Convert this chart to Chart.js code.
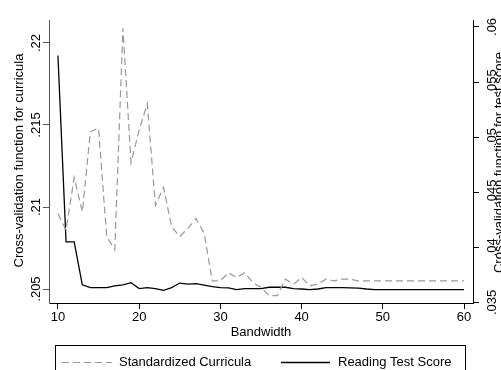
<!DOCTYPE html>
<html>
<head>
<meta charset="utf-8">
<script src="https://cdn.jsdelivr.net/npm/chart.js@4/dist/chart.umd.min.js"></script>
<style>
html,body{margin:0;padding:0;background:#fff;}
#wrap{width:501px;height:370px;position:relative;}
</style>
</head>
<body>
<div id="wrap"><canvas id="c" width="501" height="370"></canvas></div>
<script>
// ---- data ----
const bandwidth = [10,11,12,13,14,15,16,17,18,19,20,21,22,23,24,25,26,27,28,29,30,31,32,33,34,35,36,37,38,39,40,41,42,43,44,45,46,47,48,49,50,51,52,53,54,55,56,57,58,59,60];
const curricula = [0.2096,0.2086,0.2118,0.2097,0.2146,0.2148,0.2082,0.2074,0.2209,0.2127,0.2147,0.2163,0.2101,0.2112,0.2088,0.2082,0.2087,0.2093,0.2084,0.2055,0.2055,0.2060,0.2057,0.2060,0.2054,0.2051,0.2046,0.2046,0.2056,0.2053,0.2057,0.2052,0.2053,0.2056,0.2055,0.2056,0.2056,0.2055,0.2055,0.2055,0.2055,0.2055,0.2055,0.2055,0.2055,0.2055,0.2055,0.2055,0.2055,0.2055,0.2055];
const testScore = [0.0574,0.0405,0.0405,0.0366,0.03635,0.03635,0.03635,0.0365,0.0366,0.0368,0.03626,0.03635,0.03626,0.0361,0.03635,0.03676,0.03667,0.03671,0.03658,0.03643,0.03635,0.03632,0.03617,0.03626,0.03626,0.03626,0.03638,0.03638,0.03638,0.03626,0.03622,0.03617,0.03622,0.03635,0.03635,0.03635,0.03632,0.0363,0.03622,0.03617,0.03617,0.03617,0.03617,0.03617,0.03617,0.03617,0.03617,0.03617,0.03617,0.03617,0.03617];
const xTickLabels = ['10','20','30','40','50','60'];
const leftTickLabels = ['.205','.21','.215','.22'];
const rightTickLabels = ['.035','.04','.045','.05','.055','.06'];
const seriesNames = ['Standardized Curricula','Reading Test Score'];
const xTitle = 'Bandwidth';
const leftTitle = 'Cross-validation function for curricula';
const rightTitle = 'Cross-validation function for test score';

const FONT = '"Liberation Sans", Arial, Helvetica, sans-serif';
const DASH = [7,4];

function toVal(s){ return parseFloat(s.charAt(0)==='.' ? '0'+s : s); }

const textPlugin = {
  id:'textPlugin',
  afterDraw(chart){
    const ctx = chart.ctx;
    const yl = chart.scales.y, yr = chart.scales.y1;
    const ca = chart.chartArea;
    ctx.save();
    ctx.fillStyle = '#000';
    ctx.font = '13px ' + FONT;
    ctx.textBaseline = 'alphabetic';
    ctx.textAlign = 'center';
    leftTickLabels.forEach(l=>{
      const y = yl.getPixelForValue(toVal(l));
      ctx.save(); ctx.translate(39.5, y); ctx.rotate(-Math.PI/2); ctx.fillText(l,0,0); ctx.restore();
    });
    rightTickLabels.forEach(l=>{
      const y = yr.getPixelForValue(toVal(l));
      ctx.save(); ctx.translate(495.5, y); ctx.rotate(-Math.PI/2); ctx.fillText(l,0,0); ctx.restore();
    });
    const cy = (ca.top + ca.bottom)/2;
    ctx.save(); ctx.translate(23, cy - 1); ctx.rotate(-Math.PI/2); ctx.fillText(leftTitle,0,0); ctx.restore();
    ctx.save(); ctx.translate(503, cy + 1); ctx.rotate(-Math.PI/2); ctx.fillText(rightTitle,0,0); ctx.restore();
    ctx.textBaseline = 'middle';
    ctx.fillText(xTitle, (ca.left+ca.right)/2, 332);
    // legend
    ctx.strokeStyle = '#000';
    ctx.lineWidth = 1;
    ctx.strokeRect(55.5, 345.5, 410, 40);
    const ly = 362.5;
    ctx.beginPath();
    ctx.strokeStyle = '#999';
    ctx.lineWidth = 1.2;
    ctx.setLineDash(DASH);
    ctx.moveTo(62, ly); ctx.lineTo(112, ly); ctx.stroke();
    ctx.setLineDash([]);
    ctx.beginPath();
    ctx.strokeStyle = '#000';
    ctx.lineWidth = 1.3;
    ctx.moveTo(281, ly); ctx.lineTo(330, ly); ctx.stroke();
    ctx.textAlign = 'left';
    ctx.fillText(seriesNames[0], 119, ly);
    ctx.fillText(seriesNames[1], 338, ly);
    ctx.restore();
  }
};

new Chart(document.getElementById('c'), {
  type:'line',
  data:{
    labels: bandwidth,
    datasets:[
      {label:seriesNames[0], data: bandwidth.map((b,i)=>({x:b,y:curricula[i]})), yAxisID:'y',
       borderColor:'#999', borderWidth:1.2, borderDash:DASH, pointRadius:0, tension:0, fill:false},
      {label:seriesNames[1], data: bandwidth.map((b,i)=>({x:b,y:testScore[i]})), yAxisID:'y1',
       borderColor:'#000', borderWidth:1.3, pointRadius:0, tension:0, fill:false}
    ]
  },
  options:{
    responsive:false,
    animation:false,
    devicePixelRatio:1,
    layout:{padding:{top:20,left:0,right:0,bottom:0}},
    plugins:{legend:{display:false}, tooltip:{enabled:false}},
    scales:{
      x:{
        type:'linear', position:'bottom', min:8.9, max:61.1,
        afterBuildTicks(s){ s.ticks = xTickLabels.map(v=>({value:parseFloat(v)})); },
        afterFit(s){ s.height = 67; },
        grid:{display:true, drawOnChartArea:false, drawTicks:true, tickLength:6, color:'#000', lineWidth:1},
        border:{display:true, color:'#000', width:1},
        ticks:{padding:1, color:'#000', font:{family:FONT, size:13}, maxRotation:0, autoSkip:false,
               callback:(v)=>String(v)}
      },
      y:{
        type:'linear', position:'left', min:0.20415, max:0.2214,
        afterBuildTicks(s){ s.ticks = leftTickLabels.map(l=>({value:toVal(l)})); },
        afterFit(s){ s.width = 49; },
        grid:{display:true, drawOnChartArea:false, drawTicks:true, tickLength:6, color:'#555', lineWidth:1},
        border:{display:true, color:'#555', width:1},
        ticks:{display:false}
      },
      y1:{
        type:'linear', position:'right', min:0.03495, max:0.06063,
        afterBuildTicks(s){ s.ticks = rightTickLabels.map(l=>({value:toVal(l)})); },
        afterFit(s){ s.width = 28; },
        grid:{display:true, drawOnChartArea:false, drawTicks:true, tickLength:6, color:'#000', lineWidth:1},
        border:{display:true, color:'#000', width:1},
        ticks:{display:false}
      }
    }
  },
  plugins:[textPlugin]
});
</script>
</body>
</html>
